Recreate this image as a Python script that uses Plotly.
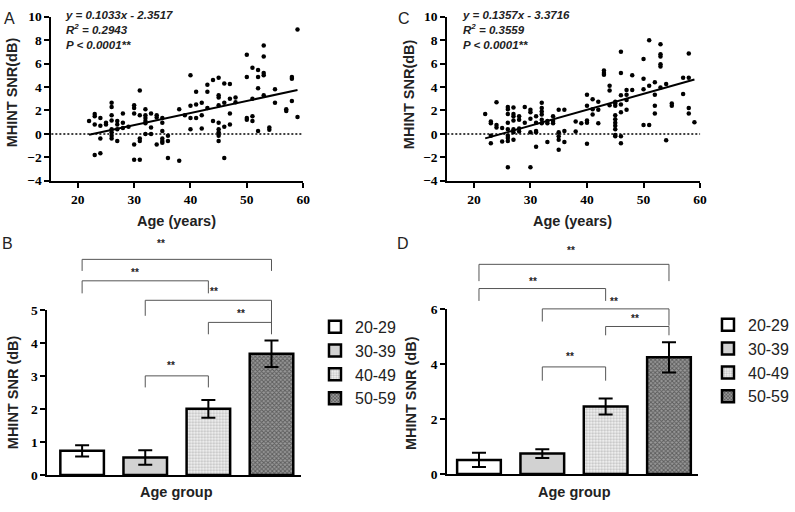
import plotly.graph_objects as go

# ---- panel A: MHINT SNR vs age (scatter) ----
a_age = [22,
         23, 23, 23, 23,
         24, 24, 24, 24,
         25, 25,
         26, 26, 26, 26, 26, 26, 26, 26,
         27, 27, 27, 27,
         28, 28, 28,
         29,
         30, 30, 30, 30, 30,
         31, 31, 31, 31, 31,
         32, 32, 32, 32, 32, 32,
         33, 33, 33,
         34, 34, 34,
         35, 35, 35, 35, 35, 35,
         36, 36, 36,
         38, 38,
         39,
         40, 40, 40, 40,
         41, 41, 41,
         42, 42, 42,
         43, 43, 43,
         44, 44,
         45, 45, 45, 45, 45, 45, 45, 45, 45,
         46, 46, 46, 46,
         47, 47, 47, 47,
         48, 48,
         50, 50, 50, 50,
         51, 51, 51, 51,
         52, 52, 52, 52,
         53, 53, 53, 53, 53,
         54, 54,
         55, 55,
         57, 57,
         58, 58, 58,
         59, 59]
a_snr = [1.1,
         1.7, 1.5, 0.8, -1.8,
         1.35, 0.7, -0.4, -1.65,
         0.95, 0.8,
         2.65, 2.3, 1.6, 1.15, 0.4, 0.15, -0.15, -0.4,
         1.1, 0.8, 0.4, -0.6,
         1.75, 0.95, 0.5,
         0.6,
         2.45, 2.2, 1.75, -0.9, -2.2,
         3.7, 1.6, -0.4, -0.6, -2.2,
         2.1, 1.6, 1.35, 1.1, 0.9, 0.0,
         1.75, 0.55, 0.0,
         1.6, 1.4, -0.9,
         1.35, 0.95, 0.25, -0.4, -0.6, -0.75,
         -0.15, -0.6, -2.05,
         2.1, -2.3,
         1.6,
         5.0, 2.4, 1.35, 0.4,
         3.6, 2.5, 1.35,
         2.65, 1.6, 0.45,
         4.2, 3.6, 2.2,
         4.6, 1.1,
         4.8, 3.3, 3.1, 2.45, 0.95, 0.4, 0.15, -0.15, -0.6,
         4.3, 2.65, 0.6, -2.05,
         4.25, 3.0, 1.75, 0.8,
         3.1, 2.7,
         6.75, 4.85, 1.35, 1.2,
         5.65, 3.0, 1.5, 1.1,
         5.45, 4.85, 3.9, 0.25,
         7.55, 6.6, 5.2, 5.0, 3.3,
         0.55, 0.35,
         3.8, 2.65,
         2.1, 1.95,
         4.85, 4.7, 2.8,
         8.9, 1.45]
a_slope, a_icpt = 0.1033, -2.3517
a_stats = ["y = 0.1033x - 2.3517", "R<sup>2</sup> = 0.2943", "P < 0.0001**"]

# ---- panel C ----
c_age = [22,
         23, 23, 23, 23,
         24, 24, 24,
         25, 25,
         26, 26, 26, 26, 26, 26, 26, 26, 26,
         27, 27, 27, 27, 27, 27, 27,
         28, 28, 28, 28,
         29, 29,
         30, 30, 30, 30, 30,
         31, 31, 31, 31, 31,
         32, 32, 32, 32, 32, 32,
         33, 33, 33,
         34, 34, 34,
         35, 35, 35, 35, 35,
         36, 36, 36,
         38, 38,
         39,
         40, 40, 40, 40, 40,
         41, 41, 41,
         42, 42, 42,
         43, 43, 43,
         44, 44, 44,
         45, 45, 45, 45, 45, 45, 45, 45, 45, 45,
         46, 46, 46, 46, 46, 46, 46,
         47, 47, 47, 47,
         48, 48,
         50, 50, 50, 50,
         51, 51, 51,
         52, 52, 52, 52,
         53, 53, 53, 53, 53, 53,
         54, 54,
         55, 55,
         57, 57,
         58, 58, 58, 58,
         59]
c_snr = [1.7,
         1.05, 0.9, -0.15, -0.8,
         2.7, 0.75, 0.55,
         0.5, -0.65,
         2.3, 2.1, 1.7, 0.95, 0.4, -0.15, -0.35, -0.6, -2.85,
         2.25, 1.7, 1.5, 1.15, 0.4, 0.15, -0.5,
         1.5, 1.2, 0.45, 0.2,
         2.3, 0.95,
         2.05, 1.85, 1.3, 0.15, -2.85,
         1.5, 0.95, 0.25, 0.15, -1.1,
         2.65, 2.2, 1.9, 1.65, 1.2, 0.9,
         1.1, 0.9, -0.7,
         1.5, 1.1, 0.9,
         2.05, 0.15, -0.2, -0.5, -1.35,
         2.05, 0.25, -0.7,
         1.05, 0.2,
         0.9,
         3.35, 2.4, 1.15, 0.95, -0.85,
         2.95, 2.1, 1.65,
         2.75, 2.05, 0.9,
         5.4, 5.2, 5.05,
         4.1, 3.7, 2.45,
         2.75, 2.6, 2.4, 1.6, 1.25, 0.95, 0.7, 0.4, -0.1, -0.2,
         7.0, 5.2, 3.3, 2.5, 1.85, -0.2, -0.8,
         3.75, 3.35, 2.9, 2.05,
         5.0, 3.75,
         6.4, 4.7, 3.8, 0.75,
         8.0, 4.1, 0.75,
         4.4, 3.35, 2.4, 1.75,
         7.65, 6.8, 6.6, 5.95, 5.75, 3.95,
         4.25, -0.55,
         2.6, 2.4,
         4.8, 3.4,
         6.85, 4.8, 2.2, 1.75,
         1.0]
c_slope, c_icpt = 0.1357, -3.3716
c_stats = ["y = 0.1357x - 3.3716", "R<sup>2</sup> = 0.3559", "P < 0.0001**"]
fit_x = [22, 59]

# ---- panels B / D: group means with SEM ----
groups = ["20-29", "30-39", "40-49", "50-59"]
b_means = [0.73, 0.53, 2.0, 3.67]
b_err = [0.17, 0.22, 0.27, 0.40]
d_means = [0.51, 0.74, 2.45, 4.24]
d_err = [0.26, 0.16, 0.29, 0.55]

# significance brackets: (left group, right group, top, left foot, right foot, label x, label y)
b_brackets = [(0, 3, 6.53, 6.18, 6.18, 1.25, 7.0),
              (0, 2, 5.88, 5.50, 5.50, 0.84, 6.12),
              (1, 3, 5.29, 4.82, 4.53, 2.09, 5.56),
              (2, 3, 4.62, 4.26, 4.26, 2.52, 4.88),
              (1, 2, 3.00, 2.65, 2.65, 1.41, 3.32)]
d_brackets = [(0, 3, 7.62, 7.01, 7.01, 1.46, 8.12),
              (0, 2, 6.74, 6.29, 6.29, 0.86, 7.0),
              (1, 3, 6.00, 5.54, 5.39, 2.13, 6.26),
              (2, 3, 5.36, 5.04, 5.04, 2.46, 5.66),
              (1, 2, 3.89, 3.39, 3.39, 1.43, 4.28)]

W, H = 795, 512
SANS = "Liberation Sans, Arial, sans-serif"
SERIF = "Liberation Serif, Times New Roman, DejaVu Serif, serif"


def px_x(p):
  return p / W


def px_y(p):
  return 1 - p / H


fills = [dict(color="white"),
         dict(color="#d2d2d2"),
         dict(color="#ececec", pattern=dict(shape=".", bgcolor="#f4f4f4", fgcolor="#8c8c8c", size=3, solidity=0.45)),
         dict(color="#555555", pattern=dict(shape="x", bgcolor="#999999", fgcolor="#222222", size=3, solidity=0.55))]

fig = go.Figure()

# scatter panels
for xa, ya, ages, vals, slope, icpt in [("x", "y", a_age, a_snr, a_slope, a_icpt),
                                        ("x2", "y2", c_age, c_snr, c_slope, c_icpt)]:
  fig.add_trace(go.Scatter(x=ages, y=vals, mode="markers", xaxis=xa, yaxis=ya,
                           marker=dict(size=4.5, color="black"), showlegend=False))
  fig.add_trace(go.Scatter(x=fit_x, y=[slope * v + icpt for v in fit_x], mode="lines",
                           xaxis=xa, yaxis=ya, line=dict(color="black", width=2), showlegend=False))

# bar panels
for xa, ya, means, errs, leg in [("x3", "y3", b_means, b_err, "legend"),
                                 ("x4", "y4", d_means, d_err, "legend2")]:
  for i, g in enumerate(groups):
    fig.add_trace(go.Bar(x=[i], y=[means[i]], name=g, xaxis=xa, yaxis=ya, legend=leg,
                         width=0.69,
                         marker=dict(line=dict(color="black", width=2.5), **fills[i]),
                         error_y=dict(type="data", array=[errs[i]], color="black",
                                      thickness=2, width=7)))

tick_font = dict(family=SERIF, size=13.5, weight="bold", color="black")
scatter_ax = dict(range=[15.3, 60], tickvals=[20, 30, 40, 50, 60], showgrid=False, zeroline=False,
                  showline=True, linecolor="black", linewidth=2, ticks="outside", ticklen=5,
                  tickwidth=2, tickcolor="black", tickfont=tick_font)
scatter_ay = dict(range=[-4, 10], dtick=2, showgrid=False, zeroline=False,
                  showline=True, linecolor="black", linewidth=2, ticks="outside", ticklen=5,
                  tickwidth=2, tickcolor="black", tickfont=tick_font)
bar_ax = dict(showgrid=False, zeroline=False, showline=True, linecolor="black", linewidth=2,
              showticklabels=False, ticks="")
bar_ay = dict(showgrid=False, zeroline=False, showline=True, linecolor="black", linewidth=2,
              ticks="outside", ticklen=5, tickwidth=2, tickcolor="black", tickfont=tick_font)

b_xr = [-0.55, 3.47]
d_xr = [-0.5, 3.46]
b_ymax, d_ymax = 5, 6

fig.update_layout(
  width=W, height=H, margin=dict(l=0, r=0, t=0, b=0),
  paper_bgcolor="white", plot_bgcolor="white", bargap=0.3,
  xaxis=dict(domain=[px_x(52), px_x(307)], anchor="y", **scatter_ax),
  yaxis=dict(domain=[px_y(179), px_y(10)], anchor="x", **scatter_ay),
  xaxis2=dict(domain=[px_x(453), px_x(709)], anchor="y2", **scatter_ax),
  yaxis2=dict(domain=[px_y(179), px_y(10)], anchor="x2", **scatter_ay),
  xaxis3=dict(domain=[px_x(48), px_x(305)], anchor="y3", range=b_xr, **bar_ax),
  yaxis3=dict(domain=[px_y(482), px_y(312)], anchor="x3", range=[0, b_ymax], dtick=1, **bar_ay),
  xaxis4=dict(domain=[px_x(453), px_x(707)], anchor="y4", range=d_xr, **bar_ax),
  yaxis4=dict(domain=[px_y(481), px_y(311)], anchor="x4", range=[0, d_ymax], dtick=2, **bar_ay),
  legend=dict(x=px_x(319), y=px_y(312), xanchor="left", yanchor="top",
              font=dict(family=SANS, size=16, color="#222"), tracegroupgap=6,
              bgcolor="rgba(0,0,0,0)"),
  legend2=dict(x=px_x(717), y=px_y(310), xanchor="left", yanchor="top",
               font=dict(family=SANS, size=16, color="#222"), tracegroupgap=6,
               bgcolor="rgba(0,0,0,0)"),
)

shapes = []
annots = []

# dotted zero line in scatter panels
for xa, ya in [("x", "y"), ("x2", "y2")]:
  shapes.append(dict(type="line", xref=xa + " domain", yref=ya, x0=0, x1=1, y0=0, y1=0,
                     line=dict(color="black", width=1.5, dash="2px,2px")))

# brackets
for xa, ya, brackets, xr, ymax in [("x3", "y3", b_brackets, b_xr, b_ymax),
                                   ("x4", "y4", d_brackets, d_xr, d_ymax)]:
  def fx(c):
    return (c - xr[0]) / (xr[1] - xr[0])

  def fy(v):
    return v / ymax

  ln = dict(color="#555555", width=1)
  for i, j, top, lf, rf, lx, ly in brackets:
    segs = [(i, lf, i, top), (i, top, j, top), (j, top, j, rf)]
    for c0, v0, c1, v1 in segs:
      shapes.append(dict(type="line", xref=xa + " domain", yref=ya + " domain",
                         x0=fx(c0), x1=fx(c1), y0=fy(v0), y1=fy(v1), line=ln))
    annots.append(dict(text="<b>**</b>", xref=xa + " domain", yref=ya + " domain",
                       x=fx(lx), y=fy(ly), showarrow=False, xanchor="center", yanchor="middle",
                       font=dict(family=SANS, size=10, color="#222")))

# regression text
for xp, stats in [(64, a_stats), (466, c_stats)]:
  annots.append(dict(text="<br>".join(f"<b><i>{s}</i></b>" for s in stats),
                     xref="paper", yref="paper", x=px_x(xp), y=1, xanchor="left", yanchor="top",
                     align="left", showarrow=False,
                     font=dict(family=SANS, size=11.5, color="#222")))

# axis titles
title_font = dict(family=SANS, size=14.5, color="#222", weight="bold")
for x, y, t, rot in [(179, 220, "Age (years)", 0), (13, 88, "MHINT SNR(dB)", -90),
                     (580, 220, "Age (years)", 0), (415, 90, "MHINT SNR(dB)", -90),
                     (179, 500, "Age group", 0), (14, 397, "MHINT SNR (dB)", -90),
                     (582, 500, "Age group", 0), (417, 398, "MHINT SNR (dB)", -90)]:
  annots.append(dict(text=t, xref="paper", yref="paper", x=px_x(x), y=px_y(y), textangle=rot,
                     xanchor="center", yanchor="middle", showarrow=False, font=title_font))

# panel letters
for x, y, t in [(10, 12, "A"), (409, 12, "C"), (8, 244, "B"), (408, 244, "D")]:
  annots.append(dict(text=t, xref="paper", yref="paper", x=px_x(x), y=px_y(y),
                     xanchor="center", yanchor="middle", showarrow=False,
                     font=dict(family=SANS, size=16, color="#222")))

fig.update_layout(shapes=shapes, annotations=annots)

# the page body keeps its default 8px margin otherwise
fig.write_html("out.html", config={"displayModeBar": False},
               post_script="document.body.style.margin='0px';")
